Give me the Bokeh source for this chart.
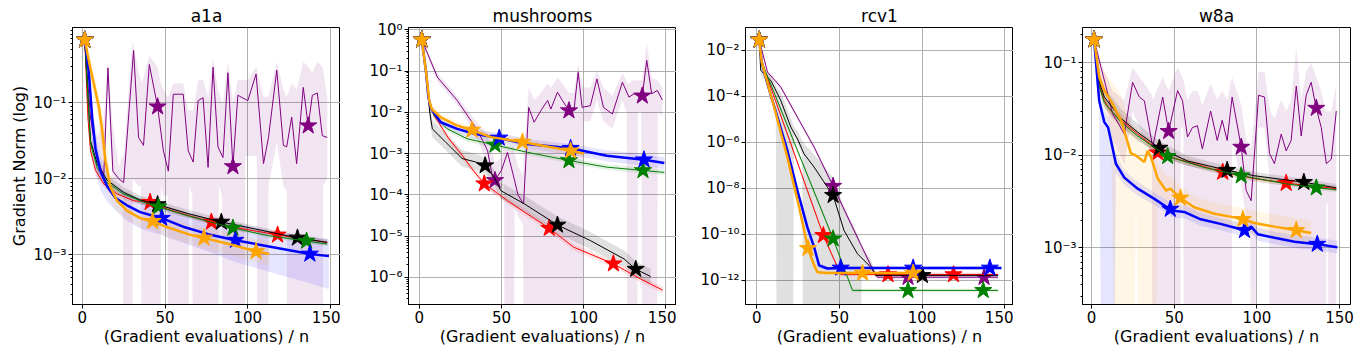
from bokeh.plotting import figure
from bokeh.layouts import row
from bokeh.models import Range1d, FixedTicker, CustomJSTickFormatter
from bokeh.embed import file_html
from bokeh.resources import INLINE

# ---------------- data: a1a ----------------
A1A_PURPLE_X = [1.5, 5, 9, 13, 15.5, 18.5, 22, 25, 31, 34, 37, 40.5, 45.5, 49, 52, 55, 61, 64, 67, 70, 73, 76, 79, 82, 85, 88, 91, 94, 100, 105, 109.5, 112.5, 117.5, 121.5, 123.5, 126.5, 129.5, 133.5, 136.5, 139, 142, 145, 148]
A1A_PURPLE_Y = [0.676, 0.063, 0.018, 0.011, 0.29, 0.0126, 0.01, 0.0089, 0.49, 0.035, 0.0275, 0.32, 0.089, 0.0234, 0.0126, 0.13, 0.13, 0.0234, 0.0166, 0.107, 0.117, 0.0141, 0.295, 0.0263, 0.019, 0.25, 0.0145, 0.126, 0.107, 0.24, 0.0158, 0.035, 0.27, 0.0275, 0.0263, 0.065, 0.0158, 0.16, 0.05, 0.126, 0.135, 0.037, 0.035]
A1A_PURPLE_STAR = [0, 12, 26, 38]
A1A_PURPLE_BX = [1.5, 5, 9, 13, 15.5, 18.5, 22, 24.5, 25, 30, 30.5, 34, 35.5, 36, 40.5, 45.5, 47, 47.5, 49, 51.5, 52, 55, 61, 64, 64.5, 66.5, 67, 70, 73, 76, 79, 82, 82.5, 84.5, 85, 88, 91, 94, 98, 98.5, 100, 105, 105.5, 106, 109.5, 112, 112.5, 117.5, 121.5, 123.5, 124, 126.5, 129.5, 133.5, 136.5, 139, 142, 145, 145.5, 148]
A1A_PURPLE_LO = [0.6, 0.04, 0.012, 0.008, 0.15, 0.008, 0.007, 0.006, 1e-9, 1e-9, 0.01, 0.008, 0.008, 1e-9, 1e-9, 1e-9, 1e-9, 0.008, 0.006, 0.006, 1e-9, 1e-9, 1e-9, 1e-9, 0.008, 0.006, 1e-9, 1e-9, 1e-9, 1e-9, 1e-9, 1e-9, 0.008, 0.006, 1e-9, 1e-9, 1e-9, 1e-9, 1e-9, 0.02, 0.02, 0.02, 0.02, 1e-9, 1e-9, 1e-9, 0.008, 0.03, 0.008, 0.007, 1e-9, 1e-9, 1e-9, 1e-9, 1e-9, 1e-9, 1e-9, 1e-9, 0.008, 0.01]
A1A_PURPLE_HI = [0.75, 0.12, 0.035, 0.06, 0.35, 0.05, 0.015, 0.02, 0.02, 0.55, 0.65, 0.25, 0.2, 0.18, 0.42, 0.3, 0.2, 0.18, 0.15, 0.12, 0.12, 0.18, 0.18, 0.08, 0.08, 0.08, 0.08, 0.2, 0.2, 0.12, 0.4, 0.15, 0.14, 0.1, 0.1, 0.35, 0.1, 0.2, 0.2, 0.2, 0.2, 0.3, 0.28, 0.25, 0.12, 0.12, 0.12, 0.35, 0.15, 0.12, 0.13, 0.18, 0.15, 0.35, 0.3, 0.25, 0.35, 0.3, 0.28, 0.12]

A1A_RED_X = [1.5, 3.4, 5, 8, 13, 21, 31, 41, 51.5, 65, 78, 92, 105, 118, 133, 148]
A1A_RED_Y = [0.676, 0.0646, 0.0234, 0.0129, 0.00851, 0.00631, 0.00513, 0.0049, 0.00398, 0.00324, 0.00269, 0.00229, 0.00204, 0.00182, 0.00162, 0.00145]
A1A_RED_LO = [0.62, 0.055, 0.02, 0.0112, 0.0076, 0.0057, 0.0047, 0.0045, 0.0037, 0.003, 0.0025, 0.0021, 0.0019, 0.0017, 0.0015, 0.00135]
A1A_RED_HI = [0.72, 0.075, 0.027, 0.0148, 0.0095, 0.007, 0.0056, 0.0053, 0.0043, 0.0035, 0.0029, 0.0025, 0.0022, 0.00196, 0.00175, 0.00156]
A1A_RED_STAR = [0, 7, 10, 13]

A1A_BLACK_X = [1.5, 5, 9, 15, 25, 35, 45.5, 64, 84, 104, 130, 148]
A1A_BLACK_Y = [0.676, 0.0316, 0.0158, 0.00955, 0.00661, 0.00525, 0.00457, 0.00347, 0.00269, 0.00219, 0.00166, 0.00145]
A1A_BLACK_LO = [0.62, 0.024, 0.0125, 0.008, 0.0057, 0.0046, 0.0041, 0.0031, 0.0024, 0.002, 0.0015, 0.00132]
A1A_BLACK_HI = [0.72, 0.042, 0.02, 0.0115, 0.0077, 0.006, 0.0051, 0.0039, 0.003, 0.0024, 0.00183, 0.0016]
A1A_BLACK_STAR = [0, 6, 8, 10]

A1A_GREEN_X = [1.5, 5, 9, 15, 25, 37, 46, 64, 91, 112, 135.5, 148]
A1A_GREEN_Y = [0.676, 0.0288, 0.0141, 0.00891, 0.00631, 0.0049, 0.00427, 0.00324, 0.00224, 0.00178, 0.00151, 0.00138]
A1A_GREEN_LO = [0.62, 0.024, 0.012, 0.0079, 0.0057, 0.0045, 0.0039, 0.003, 0.0021, 0.00166, 0.0014, 0.00128]
A1A_GREEN_HI = [0.72, 0.035, 0.0166, 0.01, 0.007, 0.0054, 0.0047, 0.0035, 0.0024, 0.0019, 0.00163, 0.00149]
A1A_GREEN_STAR = [0, 6, 8, 10]

A1A_BLUE_X = [1.5, 4, 6, 8, 11, 15, 20, 27, 35, 48, 62, 76, 92.5, 112, 137.5, 149]
A1A_BLUE_Y = [0.676, 0.251, 0.0631, 0.0251, 0.0126, 0.00794, 0.00562, 0.00447, 0.00363, 0.00302, 0.00229, 0.00186, 0.00155, 0.00129, 0.00102, 0.000955]
A1A_BLUE_LO = [0.6, 0.15, 0.03, 0.012, 0.007, 0.005, 0.0038, 0.0028, 0.0022, 0.0018, 0.0014, 0.0011, 0.0008, 0.0006, 0.00042, 0.00035]
A1A_BLUE_HI = [0.75, 0.35, 0.1, 0.04, 0.02, 0.012, 0.008, 0.0065, 0.0055, 0.0045, 0.0036, 0.003, 0.0026, 0.0021, 0.0017, 0.0016]
A1A_BLUE_STAR = [0, 9, 12, 14]

A1A_ORANGE_X = [1.5, 4, 7, 10, 12, 14, 17, 21, 27, 35, 42.5, 51.5, 64, 73.5, 92, 105, 113]
A1A_ORANGE_Y = [0.676, 0.355, 0.178, 0.0891, 0.0437, 0.0174, 0.00776, 0.00513, 0.0038, 0.00302, 0.00275, 0.00229, 0.00186, 0.00166, 0.00132, 0.0011, 0.00102]
A1A_ORANGE_LO = [0.6, 0.25, 0.12, 0.05, 0.02, 0.009, 0.005, 0.0037, 0.0029, 0.0023, 0.0021, 0.0017, 0.0014, 0.0012, 0.00095, 0.0008, 0.00072]
A1A_ORANGE_HI = [0.75, 0.45, 0.25, 0.13, 0.08, 0.035, 0.012, 0.007, 0.005, 0.0039, 0.0036, 0.003, 0.0025, 0.0023, 0.0019, 0.0016, 0.0015]
A1A_ORANGE_STAR = [0, 10, 13, 15]

# ---------------- data: mushrooms ----------------
MUSH_PURPLE_X = [1.5, 11, 23, 33.4, 38.5, 41.5, 44.5, 46, 50, 53.6, 57, 60, 63.4, 66.5, 69.8, 73.9, 78, 80, 84, 87, 91, 94, 96.6, 99, 104, 108, 112, 117.4, 123.5, 127.5, 130.6, 135.6, 138.3, 141.3, 144.7, 147.8]
MUSH_PURPLE_Y = [0.575, 0.0708, 0.0195, 0.00479, 0.00209, 0.00117, 0.000269, 0.000224, 0.000398, 0.00107, 0.000316, 0.0001, 6.0e-5, 0.0132, 0.00575, 0.011, 0.0195, 0.012, 0.0309, 0.0195, 0.011, 0.011, 0.0933, 0.0132, 0.0145, 0.0646, 0.0132, 0.00912, 0.0537, 0.0234, 0.0282, 0.0251, 0.182, 0.0282, 0.0339, 0.02]
MUSH_PURPLE_STAR = [0, 7, 20, 31]
MUSH_PURPLE_BX = [1.5, 11, 23, 33.4, 38.5, 41.5, 44.5, 46, 50, 51.5, 52, 57.5, 58, 60, 63, 63.5, 66.5, 69.8, 73.9, 78, 80, 84, 87, 91, 94, 96.6, 99.5, 100, 104, 108, 112, 117.4, 123.5, 126, 126.5, 130.6, 132.5, 133, 135, 135.5, 138.3, 141.3, 144.5, 145, 147.8]
MUSH_PURPLE_LO = [0.5, 0.055, 0.015, 0.0033, 0.0011, 0.0004, 0.0001, 0.0001, 0.00015, 0.0002, 1e-9, 1e-9, 5e-5, 3e-5, 2e-5, 1e-9, 1e-9, 1e-9, 1e-9, 1e-9, 1e-9, 1e-9, 1e-9, 1e-9, 1e-9, 1e-9, 1e-9, 0.006, 0.006, 0.02, 0.006, 0.004, 0.02, 0.01, 1e-9, 1e-9, 1e-9, 0.01, 0.01, 1e-9, 1e-9, 1e-9, 1e-9, 0.01, 0.008]
MUSH_PURPLE_HI = [0.65, 0.09, 0.025, 0.007, 0.004, 0.003, 0.001, 0.0006, 0.0008, 0.0015, 0.0015, 0.0015, 0.001, 0.0005, 0.0003, 0.001, 0.04, 0.02, 0.03, 0.05, 0.04, 0.07, 0.05, 0.03, 0.03, 0.15, 0.04, 0.04, 0.04, 0.1, 0.04, 0.025, 0.09, 0.06, 0.05, 0.06, 0.06, 0.06, 0.06, 0.06, 0.5, 0.07, 0.06, 0.06, 0.04]

MUSH_RED_X = [1.5, 4, 6, 8.9, 18, 26, 32, 39.5, 53.6, 64, 79, 94, 118, 134.6, 148]
MUSH_RED_Y = [0.575, 0.1, 0.0178, 0.0085, 0.00229, 0.00091, 0.000427, 0.000186, 7.24e-5, 3.8e-5, 1.55e-5, 5.37e-6, 2.14e-6, 9.1e-7, 4.9e-7]
MUSH_RED_LO = [0.5, 0.085, 0.015, 0.007, 0.0019, 0.00075, 0.00035, 0.000155, 6e-5, 3.1e-5, 1.28e-5, 4.4e-6, 1.75e-6, 7.5e-7, 4e-7]
MUSH_RED_HI = [0.65, 0.12, 0.021, 0.0102, 0.00275, 0.0011, 0.00051, 0.000223, 8.7e-5, 4.6e-5, 1.86e-5, 6.4e-6, 2.6e-6, 1.1e-6, 5.9e-7]
MUSH_RED_STAR = [0, 7, 10, 12]

MUSH_BLACK_X = [1.5, 4, 6.3, 7.9, 16, 26, 34, 40, 45.5, 49.6, 64, 84, 104, 124.5, 131.6, 140.7]
MUSH_BLACK_Y = [0.575, 0.1, 0.0102, 0.00398, 0.0019, 0.00076, 0.00063, 0.00051, 0.000269, 0.000126, 6.0e-5, 1.86e-5, 7.8e-6, 2.8e-6, 1.58e-6, 1.05e-6]
MUSH_BLACK_LO = [0.5, 0.07, 0.006, 0.0025, 0.0012, 0.00048, 0.0004, 0.00033, 0.00017, 8e-5, 3.8e-5, 1.15e-5, 4.8e-6, 1.8e-6, 1e-6, 7e-7]
MUSH_BLACK_HI = [0.65, 0.14, 0.016, 0.0065, 0.003, 0.0012, 0.001, 0.0008, 0.00042, 0.0002, 9.5e-5, 3e-5, 1.25e-5, 4.5e-6, 2.5e-6, 1.6e-6]
MUSH_BLACK_STAR = [0, 7, 11, 14]

MUSH_GREEN_X = [1.5, 4, 6, 9, 17, 29, 46, 66, 91, 114, 136, 149]
MUSH_GREEN_Y = [0.575, 0.1, 0.0178, 0.0083, 0.00398, 0.00229, 0.00162, 0.00107, 0.00068, 0.00047, 0.00039, 0.00035]
MUSH_GREEN_LO = [0.5, 0.085, 0.015, 0.007, 0.0034, 0.0019, 0.00138, 0.00091, 0.00058, 0.0004, 0.00033, 0.0003]
MUSH_GREEN_HI = [0.65, 0.118, 0.021, 0.0098, 0.0047, 0.0027, 0.0019, 0.00126, 0.0008, 0.00055, 0.00046, 0.00041]
MUSH_GREEN_STAR = [0, 6, 8, 10]

MUSH_BLUE_X = [1.5, 4, 5.5, 7, 13, 23, 33.4, 48.6, 64, 92, 114, 136.6, 149]
MUSH_BLUE_Y = [0.575, 0.1, 0.0234, 0.0126, 0.00575, 0.00398, 0.00302, 0.0024, 0.00174, 0.00135, 0.00089, 0.00071, 0.00059]
MUSH_BLUE_LO = [0.5, 0.07, 0.018, 0.01, 0.0046, 0.0031, 0.0023, 0.0018, 0.0013, 0.00093, 0.00065, 0.0005, 0.00042]
MUSH_BLUE_HI = [0.65, 0.14, 0.03, 0.016, 0.0072, 0.0051, 0.0039, 0.0032, 0.0023, 0.0017, 0.0012, 0.00098, 0.00082]
MUSH_BLUE_STAR = [0, 7, 9, 11]

MUSH_ORANGE_X = [1.5, 4, 6, 7.5, 13, 23, 32, 43.5, 62.7, 92, 100]
MUSH_ORANGE_Y = [0.575, 0.1, 0.0195, 0.012, 0.00759, 0.00479, 0.00372, 0.00251, 0.00191, 0.00117, 0.001]
MUSH_ORANGE_LO = [0.5, 0.07, 0.015, 0.0095, 0.006, 0.0037, 0.0029, 0.002, 0.0015, 0.0009, 0.00078]
MUSH_ORANGE_HI = [0.65, 0.14, 0.025, 0.015, 0.0095, 0.006, 0.0047, 0.0032, 0.0024, 0.0015, 0.0013]
MUSH_ORANGE_STAR = [0, 6, 8, 9]

# ---------------- data: rcv1 ----------------
RCV1_PURPLE_X = [1.5, 6.5, 14.5, 24.6, 34.7, 46.2, 58.9, 70, 73, 91.5, 115, 137.5, 146]
RCV1_PURPLE_Y = [0.029, 1.15e-3, 2.6e-4, 1.26e-5, 6.3e-7, 1.26e-8, 1.48e-10, 3.2e-12, 1.38e-12, 1.38e-12, 1.38e-12, 1.38e-12, 1.38e-12]
RCV1_PURPLE_LO = [0.025, 9e-4, 2e-4, 1e-5, 5e-7, 1e-8, 1.1e-10, 2.4e-12, 1.1e-12, 1.1e-12, 1.1e-12, 1.1e-12, 1.1e-12]
RCV1_PURPLE_HI = [0.033, 1.4e-3, 3.2e-4, 1.6e-5, 8e-7, 1.6e-8, 2e-10, 4.2e-12, 1.75e-12, 1.75e-12, 1.75e-12, 1.75e-12, 1.75e-12]
RCV1_PURPLE_STAR = [0, 5, 9, 11]

RCV1_RED_X = [1.5, 3, 40.3, 48.8, 50.8, 79.4, 100, 119, 146]
RCV1_RED_Y = [0.029, 0.0032, 9.1e-11, 3.8e-12, 1.8e-12, 1.8e-12, 1.8e-12, 1.8e-12, 1.8e-12]
RCV1_RED_LO = [0.025, 0.0026, 7e-11, 3e-12, 1.5e-12, 1.5e-12, 1.5e-12, 1.5e-12, 1.5e-12]
RCV1_RED_HI = [0.033, 0.004, 1.2e-10, 4.8e-12, 2.2e-12, 2.2e-12, 2.2e-12, 2.2e-12, 2.2e-12]
RCV1_RED_STAR = [0, 2, 5, 7]

RCV1_BLACK_X = [1.5, 2.4, 8.5, 14.5, 20.6, 25, 28.6, 34.7, 42.7, 46.2, 52.8, 60.9, 69, 72, 100.2, 146]
RCV1_BLACK_Y = [0.029, 1.35e-3, 5.0e-4, 6.8e-5, 4.7e-6, 1.26e-6, 3.2e-7, 8.5e-8, 1.15e-8, 5.0e-9, 1.48e-10, 1.45e-11, 3.8e-12, 1.66e-12, 1.66e-12, 1.66e-12]
RCV1_BLACK_STAR = [0, 9, 14]
RCV1_BLACK_BX = [1.5, 2.4, 8.5, 11.5, 12, 14.5, 20.6, 22, 22.5, 25, 27.5, 28, 34.7, 42.7, 46.2, 52.8, 60.9, 63, 63.5, 69, 72, 100.2, 146]
RCV1_BLACK_LO = [0.025, 8e-4, 2.5e-4, 1.2e-4, 1e-16, 1e-16, 1e-16, 1e-16, 2e-6, 8e-7, 3e-7, 1e-16, 1e-16, 1e-16, 1e-16, 1e-16, 1e-16, 1e-16, 6e-12, 2.5e-12, 1.4e-12, 1.4e-12, 1.4e-12]
RCV1_BLACK_HI = [0.035, 2e-3, 8e-4, 3e-4, 2.5e-4, 1.5e-4, 1.2e-5, 6e-6, 5e-6, 3e-6, 1.2e-6, 1e-6, 3e-7, 6e-8, 3e-8, 1.5e-9, 1e-10, 3e-11, 2.5e-11, 8e-12, 2e-12, 2e-12, 2e-12]

RCV1_GREEN_X = [1.5, 3, 46.2, 57.9, 91.5, 120, 137, 146]
RCV1_GREEN_Y = [0.029, 0.0032, 6.5e-11, 3.7e-13, 3.7e-13, 3.7e-13, 3.7e-13, 3.7e-13]
RCV1_GREEN_LO = [0.025, 0.0026, 5e-11, 3.1e-13, 3.1e-13, 3.1e-13, 3.1e-13, 3.1e-13]
RCV1_GREEN_HI = [0.033, 0.004, 8.5e-11, 4.4e-13, 4.4e-13, 4.4e-13, 4.4e-13, 4.4e-13]
RCV1_GREEN_STAR = [0, 2, 4, 6]

RCV1_BLUE_X = [1.5, 3, 6.5, 12.5, 18.5, 24.6, 30.6, 34.7, 37.7, 42.7, 50.8, 70, 94.6, 120, 141, 148]
RCV1_BLUE_Y = [0.029, 0.0032, 3.5e-4, 1.26e-5, 4.5e-7, 8.1e-9, 2.1e-10, 2.8e-11, 4.5e-12, 3.3e-12, 3.5e-12, 3.5e-12, 3.5e-12, 3.5e-12, 3.5e-12, 3.5e-12]
RCV1_BLUE_LO = [0.025, 0.0026, 2.6e-4, 9e-6, 3.2e-7, 5.5e-9, 1.4e-10, 1.9e-11, 3.4e-12, 2.7e-12, 2.9e-12, 2.9e-12, 2.9e-12, 2.9e-12, 2.9e-12, 2.9e-12]
RCV1_BLUE_HI = [0.033, 0.004, 4.7e-4, 1.8e-5, 6.5e-7, 1.2e-8, 3.2e-10, 4.2e-11, 6e-12, 4e-12, 4.2e-12, 4.2e-12, 4.2e-12, 4.2e-12, 4.2e-12, 4.2e-12]
RCV1_BLUE_STAR = [0, 10, 12, 14]

RCV1_ORANGE_X = [1.5, 3, 10.5, 18.5, 25.6, 31, 34.3, 36.7, 42.7, 64, 80, 94.6, 97]
RCV1_ORANGE_Y = [0.029, 0.0032, 3.5e-5, 2.3e-7, 1.55e-9, 2.5e-11, 5.4e-12, 2.3e-12, 2.1e-12, 2.1e-12, 2.1e-12, 2.1e-12, 2.1e-12]
RCV1_ORANGE_LO = [0.025, 0.0026, 2.5e-5, 1.6e-7, 1e-9, 1.7e-11, 4e-12, 1.8e-12, 1.75e-12, 1.75e-12, 1.75e-12, 1.75e-12, 1.75e-12]
RCV1_ORANGE_HI = [0.033, 0.004, 5e-5, 3.3e-7, 2.3e-9, 3.7e-11, 7.5e-12, 2.8e-12, 2.5e-12, 2.5e-12, 2.5e-12, 2.5e-12, 2.5e-12]
RCV1_ORANGE_STAR = [0, 5, 9, 11]

# ---------------- data: w8a ----------------
W8A_PURPLE_X = [1.5, 5.7, 9.3, 12.7, 19.8, 24.8, 28.9, 31.9, 37, 43, 46.6, 52, 55, 58, 61, 64, 67, 72, 76, 79, 82, 85, 90.5, 93.5, 96.5, 99.5, 101, 104.6, 107.6, 110.6, 114.7, 117.7, 120.7, 123.8, 126.8, 129.8, 132.8, 135.9, 138.9, 142, 145, 148]
W8A_PURPLE_Y = [0.178, 0.0891, 0.0501, 0.0282, 0.017, 0.0617, 0.0427, 0.0389, 0.0123, 0.0427, 0.0182, 0.0501, 0.0389, 0.0158, 0.02, 0.0209, 0.0117, 0.0302, 0.0145, 0.024, 0.0145, 0.0427, 0.0123, 0.00417, 0.00324, 0.0186, 0.0447, 0.0427, 0.0105, 0.00813, 0.017, 0.0112, 0.0145, 0.0562, 0.0162, 0.0447, 0.0617, 0.0324, 0.02, 0.00813, 0.00912, 0.0302]
W8A_PURPLE_STAR = [0, 10, 22, 37]
W8A_PURPLE_BX = [1.5, 5.7, 9.3, 12.7, 19.8, 24.8, 28.9, 31.9, 36.5, 37, 43, 46.6, 52, 53.5, 54, 55, 55.5, 56, 58, 61, 64, 67, 72, 76, 79, 82, 84.5, 85, 90.5, 93.5, 96, 96.5, 99, 99.5, 101, 104.6, 107.5, 108, 110.6, 114.7, 117.7, 120.7, 123.8, 126.8, 129.8, 132.8, 135.9, 138.9, 141.5, 142, 143, 143.5, 145, 148]
W8A_PURPLE_LO = [0.16, 0.06, 0.03, 0.015, 0.008, 0.03, 0.02, 0.015, 0.01, 1e-9, 1e-9, 1e-9, 1e-9, 1e-9, 0.02, 0.02, 0.02, 1e-9, 1e-9, 1e-9, 1e-9, 1e-9, 1e-9, 1e-9, 1e-9, 1e-9, 1e-9, 0.015, 0.005, 0.002, 0.0015, 1e-9, 1e-9, 0.01, 0.02, 0.02, 0.006, 1e-9, 1e-9, 1e-9, 1e-9, 1e-9, 1e-9, 1e-9, 1e-9, 1e-9, 1e-9, 1e-9, 1e-9, 0.003, 0.003, 1e-9, 1e-9, 1e-9]
W8A_PURPLE_HI = [0.2, 0.1, 0.07, 0.05, 0.04, 0.09, 0.07, 0.06, 0.045, 0.04, 0.07, 0.05, 0.09, 0.08, 0.075, 0.07, 0.065, 0.06, 0.04, 0.05, 0.05, 0.035, 0.06, 0.04, 0.05, 0.04, 0.065, 0.07, 0.035, 0.015, 0.012, 0.012, 0.035, 0.04, 0.08, 0.08, 0.035, 0.03, 0.025, 0.04, 0.03, 0.04, 0.15, 0.04, 0.08, 0.1, 0.07, 0.05, 0.03, 0.03, 0.03, 0.03, 0.03, 0.06]

W8A_RED_X = [1.5, 4.6, 7.7, 11.7, 17.8, 27.9, 38, 40, 48, 58, 79.3, 98.5, 117.7, 139, 148]
W8A_RED_Y = [0.178, 0.0589, 0.0389, 0.0302, 0.024, 0.017, 0.0123, 0.0107, 0.00955, 0.00851, 0.00661, 0.00562, 0.00501, 0.00457, 0.00437]
W8A_RED_LO = [0.165, 0.052, 0.034, 0.026, 0.021, 0.015, 0.011, 0.0097, 0.0087, 0.0078, 0.0061, 0.0052, 0.0047, 0.0043, 0.0041]
W8A_RED_HI = [0.19, 0.067, 0.044, 0.035, 0.028, 0.019, 0.0137, 0.0118, 0.0105, 0.0093, 0.0072, 0.0061, 0.0054, 0.0049, 0.0047]
W8A_RED_STAR = [0, 7, 10, 12]

W8A_BLACK_X = [1.5, 4.6, 7.7, 17.8, 27.9, 41, 58, 82, 98.5, 128.4, 148]
W8A_BLACK_Y = [0.178, 0.0631, 0.0427, 0.0251, 0.0178, 0.012, 0.0087, 0.00692, 0.00603, 0.00513, 0.00447]
W8A_BLACK_LO = [0.165, 0.05, 0.034, 0.02, 0.0145, 0.0102, 0.0077, 0.0063, 0.0055, 0.0047, 0.0041]
W8A_BLACK_HI = [0.19, 0.08, 0.055, 0.032, 0.022, 0.0142, 0.0099, 0.0077, 0.0066, 0.0056, 0.0049]
W8A_BLACK_STAR = [0, 5, 7, 9]

W8A_GREEN_X = [1.5, 4.6, 7.7, 17.8, 27.9, 46, 68, 90.5, 118.7, 135.9, 148]
W8A_GREEN_Y = [0.178, 0.0562, 0.0372, 0.0229, 0.0162, 0.00977, 0.00741, 0.00603, 0.0049, 0.00447, 0.00427]
W8A_GREEN_LO = [0.165, 0.05, 0.033, 0.0205, 0.0146, 0.009, 0.0069, 0.0056, 0.0046, 0.0042, 0.004]
W8A_GREEN_HI = [0.19, 0.063, 0.042, 0.0255, 0.018, 0.0106, 0.008, 0.0065, 0.0053, 0.0048, 0.0046]
W8A_GREEN_STAR = [0, 5, 7, 9]

W8A_BLUE_X = [1.5, 4.6, 7.7, 10, 11.7, 14.7, 19.8, 27.9, 38, 44, 47.6, 51, 56, 66, 78, 88.4, 92.5, 96.5, 100.5, 110.6, 122.8, 136.5, 148.6]
W8A_BLUE_Y = [0.178, 0.0389, 0.0229, 0.02, 0.0145, 0.00813, 0.00575, 0.00437, 0.00339, 0.00288, 0.00263, 0.00251, 0.00245, 0.00204, 0.00182, 0.00162, 0.00155, 0.0017, 0.00141, 0.00129, 0.00117, 0.0011, 0.00102]
W8A_BLUE_LO = [0.16, 0.03, 1e-9, 1e-9, 1e-9, 0.0065, 0.0048, 0.0037, 0.0029, 0.0025, 0.0022, 0.0021, 0.0021, 0.00174, 0.00155, 0.00138, 0.00132, 0.00145, 0.0012, 0.0011, 0.001, 0.00094, 0.00087]
W8A_BLUE_HI = [0.2, 0.05, 0.03, 0.026, 0.019, 0.0105, 0.0068, 0.0052, 0.004, 0.0034, 0.0031, 0.003, 0.0029, 0.0024, 0.0021, 0.0019, 0.0018, 0.002, 0.00166, 0.0015, 0.00138, 0.0013, 0.0012]
W8A_BLUE_STAR = [0, 10, 16, 21]

W8A_ORANGE_X = [1.5, 4.6, 7.7, 11.7, 17.8, 23.8, 26.8, 31.9, 33.9, 36, 40, 45, 47.6, 53.7, 62, 74.3, 86.4, 91.5, 98.5, 110.6, 123.8, 132.8]
W8A_ORANGE_Y = [0.178, 0.0708, 0.0501, 0.0389, 0.024, 0.0105, 0.01, 0.00851, 0.0112, 0.00955, 0.00562, 0.00417, 0.00437, 0.00347, 0.00275, 0.00234, 0.00214, 0.00204, 0.00186, 0.0017, 0.00155, 0.00145]
W8A_ORANGE_LO = [0.16, 0.05, 0.03, 0.02, 1e-9, 1e-9, 0.006, 1e-9, 1e-9, 1e-9, 0.004, 0.003, 0.0031, 0.0026, 0.0021, 0.0018, 0.0016, 0.00155, 0.0014, 0.0013, 0.00118, 0.0011]
W8A_ORANGE_HI = [0.2, 0.1, 0.08, 0.065, 0.045, 0.02, 0.016, 0.013, 0.016, 0.014, 0.008, 0.006, 0.006, 0.0046, 0.0036, 0.0031, 0.0028, 0.0027, 0.0025, 0.0023, 0.0021, 0.002]
W8A_ORANGE_STAR = [0, 13, 17, 20]

TITLES = ["a1a", "mushrooms", "rcv1", "w8a"]
PREFIXES = ["A1A", "MUSH", "RCV1", "W8A"]
METHODS = ["PURPLE", "RED", "BLACK", "GREEN", "BLUE", "ORANGE"]
X_TICKS = [0, 50, 100, 150]
Y_TICKS = {
    "A1A": [1e-3, 1e-2, 1e-1],
    "MUSH": [1e-6, 1e-5, 1e-4, 1e-3, 1e-2, 1e-1, 1e0],
    "RCV1": [1e-12, 1e-10, 1e-8, 1e-6, 1e-4, 1e-2],
    "W8A": [1e-3, 1e-2, 1e-1],
}
X_LIMITS = {"A1A": (-5.9, 156.0), "MUSH": (-6.6, 156.4), "RCV1": (-6.8, 155.3), "W8A": (-5.5, 156.6)}
Y_LIMITS = {"A1A": (2.2e-4, 0.985), "MUSH": (2.2e-7, 1.14), "RCV1": (9e-14, 0.1), "W8A": (2.45e-4, 0.241)}
MINOR_DECADES = {"A1A": range(-4, 0), "MUSH": range(-7, 0), "RCV1": range(0), "W8A": range(-4, 0)}

# ---------------- styles ----------------
COLORS = {"PURPLE": "#800080", "RED": "#ff0000", "BLACK": "#000000",
          "GREEN": "#008000", "BLUE": "#0000ff", "ORANGE": "#ffa500"}
LINE_W = {"PURPLE": 1.0, "RED": 1.0, "BLACK": 1.0, "GREEN": 1.0, "BLUE": 2.5, "ORANGE": 2.5}
BAND_A = {"PURPLE": 0.1, "RED": 0.1, "BLACK": 0.12, "GREEN": 0.1, "BLUE": 0.1, "ORANGE": 0.1}
FONT = "DejaVu Sans"
G = globals()

SUP_JS = """
const e = Math.round(Math.log10(tick));
const m = {"-": "\u207b", "0": "\u2070", "1": "\u00b9", "2": "\u00b2", "3": "\u00b3",
           "4": "\u2074", "5": "\u2075", "6": "\u2076", "7": "\u2077", "8": "\u2078", "9": "\u2079"};
let s = "";
for (const c of String(e)) { s += m[c]; }
return "10" + s;
"""

# page has no body margin (Bokeh template): frames at 72/408/745/1082, width 268
BORDER_L = [72, 68, 69, 69]
BORDER_R = [0, 0, 0, 10]
FRAME_W = 268

figs = []
for k, (title, pre) in enumerate(zip(TITLES, PREFIXES)):
    p = figure(width=BORDER_L[k] + FRAME_W + BORDER_R[k], height=352,
               y_axis_type="log",
               x_range=Range1d(*X_LIMITS[pre]), y_range=Range1d(*Y_LIMITS[pre]),
               output_backend="svg", toolbar_location=None,
               min_border_left=BORDER_L[k], min_border_right=BORDER_R[k],
               min_border_top=27, min_border_bottom=48)
    p.title.text = title
    p.title.align = "center"
    p.title.text_font = FONT
    p.title.text_font_size = "17px"
    p.title.text_font_style = "normal"
    p.title.text_color = "black"
    p.title.standoff = 3

    p.outline_line_color = "black"
    p.outline_line_alpha = 1.0
    p.outline_line_width = 1

    minors = [m * 10.0 ** d for d in MINOR_DECADES[pre] for m in range(2, 10)]
    p.yaxis.ticker = FixedTicker(ticks=Y_TICKS[pre], minor_ticks=minors)
    p.yaxis.formatter = CustomJSTickFormatter(code=SUP_JS)
    p.xaxis.ticker = FixedTicker(ticks=X_TICKS)

    for ax in (p.xaxis, p.yaxis):
        ax.axis_line_color = "black"
        ax.major_tick_line_color = "black"
        ax.major_tick_out = 4
        ax.major_tick_in = 0
        ax.minor_tick_out = 2
        ax.minor_tick_in = 0
        ax.major_label_text_font = FONT
        ax.major_label_text_font_size = "15px"
        ax.major_label_text_color = "black"
        ax.major_label_standoff = 2
        ax.axis_label_text_font = FONT
        ax.axis_label_text_font_size = "16px"
        ax.axis_label_text_font_style = "normal"
        ax.axis_label_text_color = "black"
        ax.axis_label_standoff = 1
    p.xaxis.minor_tick_line_color = None
    p.xaxis.axis_label = "(Gradient evaluations) / n"
    if k == 0:
        p.yaxis.axis_label = "Gradient Norm (log)"

    p.xgrid.grid_line_color = "#b0b0b0"
    p.ygrid.grid_line_color = "#b0b0b0"
    p.xgrid.grid_line_width = 1
    p.ygrid.grid_line_width = 1

    # shaded bands (own x grid where given, else the line's x values)
    for mth in METHODS:
        xs = G.get(f"{pre}_{mth}_BX", G[f"{pre}_{mth}_X"])
        lo = G[f"{pre}_{mth}_LO"]
        hi = G[f"{pre}_{mth}_HI"]
        n = min(len(xs), len(lo), len(hi))
        p.varea(x=xs[:n], y1=lo[:n], y2=hi[:n], fill_color=COLORS[mth], fill_alpha=BAND_A[mth])
    # lines and star markers
    for mth in METHODS:
        xs = G[f"{pre}_{mth}_X"]
        ys = G[f"{pre}_{mth}_Y"]
        n = min(len(xs), len(ys))
        xs, ys = xs[:n], ys[:n]
        p.line(xs, ys, line_color=COLORS[mth], line_width=LINE_W[mth])
        idx = [i for i in G[f"{pre}_{mth}_STAR"] if i < n]
        p.scatter([xs[i] for i in idx], [ys[i] for i in idx], marker="star", size=18,
                  fill_color=COLORS[mth], line_color=COLORS[mth], line_width=1)
    figs.append(p)

layout = row(*figs)
open("out.html", "w").write(file_html(layout, INLINE))
